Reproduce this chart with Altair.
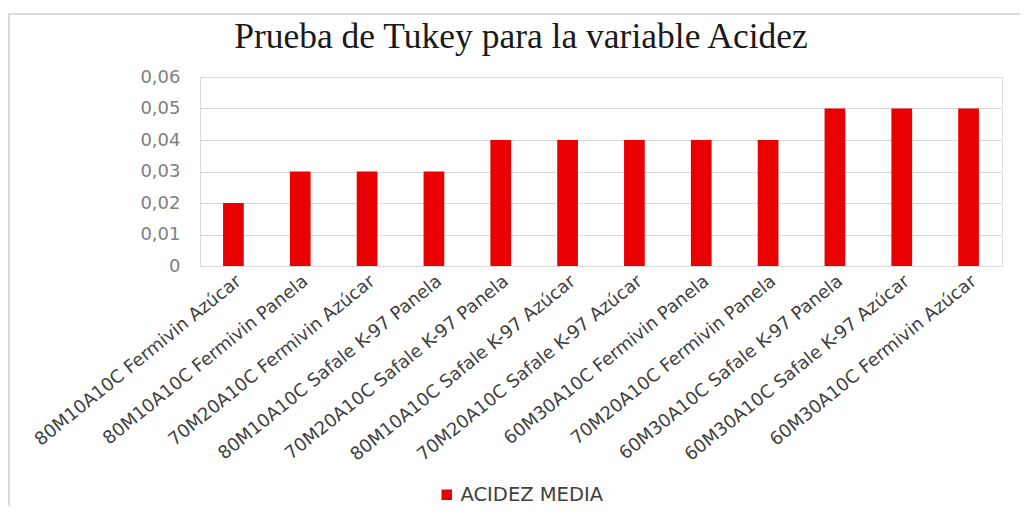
import altair as alt
import pandas as pd

categories = [
    "80M10A10C Fermivin Azúcar",
    "80M10A10C Fermivin Panela",
    "70M20A10C Fermivin Azúcar",
    "80M10A10C Safale K-97 Panela",
    "70M20A10C Safale K-97 Panela",
    "80M10A10C Safale K-97 Azúcar",
    "70M20A10C Safale K-97 Azúcar",
    "60M30A10C Fermivin Panela",
    "70M20A10C Fermivin Panela",
    "60M30A10C Safale K-97 Panela",
    "60M30A10C Safale K-97 Azúcar",
    "60M30A10C Fermivin Azúcar",
]
acidez_media = [0.02, 0.03, 0.03, 0.03, 0.04, 0.04, 0.04, 0.04, 0.04, 0.05, 0.05, 0.05]
series_name = "ACIDEZ MEDIA"
y_ticks = [0, 0.01, 0.02, 0.03, 0.04, 0.05, 0.06]
chart_title = "Prueba de Tukey para la variable Acidez"

df = pd.DataFrame({"cat": categories, "val": acidez_media, "serie": [series_name] * len(categories)})

W, H = 802, 189

bars = alt.Chart(df).mark_bar(color="#E90000").encode(
    x=alt.X("cat:N", sort=categories,
            scale=alt.Scale(paddingInner=0.69, paddingOuter=0.345),
            axis=alt.Axis(title=None, labelAngle=321, labelFontSize=18,
                          labelFont="DejaVu Sans", labelColor="#404040",
                          ticks=False, domain=True, domainColor="#d9d9d9",
                          labelPadding=6, labelLimit=400)),
    y=alt.Y("val:Q", scale=alt.Scale(domain=[0, 0.06], nice=False),
            axis=alt.Axis(title=None, values=y_ticks, ticks=False, domain=False,
                          labelExpr="datum.value == 0 ? '0' : replace(format(datum.value, '.2f'), '.', ',')",
                          labelFontSize=18, labelFont="DejaVu Sans", labelColor="#808080",
                          labelPadding=20, gridColor="#d9d9d9", gridWidth=1.2)),
    color=alt.Color("serie:N", scale=alt.Scale(range=["#E90000"]),
                    legend=alt.Legend(title=None, orient="none", legendX=237, legendY=408,
                                      symbolType="square", symbolSize=110,
                                      labelFontSize=19.5, labelFont="DejaVu Sans",
                                      labelColor="#404040", symbolStrokeWidth=0)),
)

one_row = pd.DataFrame({"t": [chart_title]})
frame = alt.Chart(one_row).mark_rect(fill=None, stroke="#d0d0d0", strokeWidth=1.5).encode(
    x=alt.value(-191), x2=alt.value(W + 60), y=alt.value(-63), y2=alt.value(H + 280)
)
title = alt.Chart(one_row).mark_text(font="Liberation Serif", fontSize=35.5, color="#1a1a1a",
                                     align="center", baseline="alphabetic").encode(
    text="t:N", x=alt.value(321), y=alt.value(-29)
)

chart = alt.layer(frame, bars, title).properties(
    width=W, height=H,
    autosize=alt.AutoSizeParams(type="none"),
    padding={"left": 192, "top": 69, "right": 18, "bottom": 240},
).configure_view(stroke=None).configure(background="white")

chart.save("out.html", embed_options={"renderer": "svg", "actions": False})
